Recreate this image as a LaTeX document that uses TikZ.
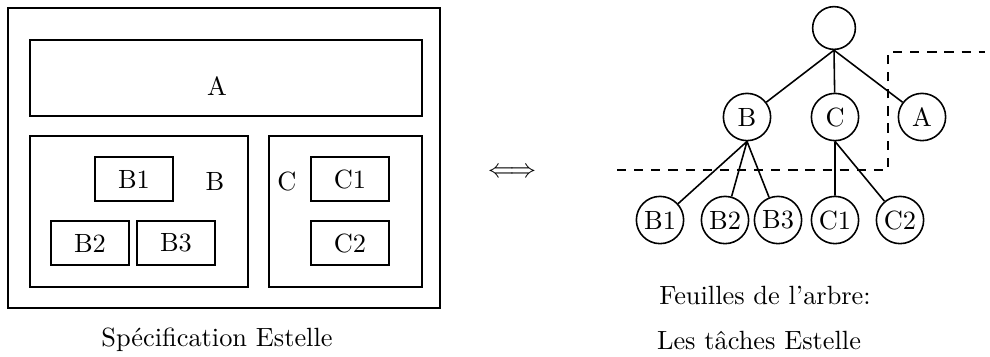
\documentclass[tikz,border=0pt]{standalone}
\usetikzlibrary{arrows,calc}

\begin{document}
\begin{tikzpicture}[x=0.01333cm,y=-0.01333cm,line width=0.6pt,
  tache/.style={draw,minimum width=1.04cm,minimum height=0.59cm,inner sep=0pt},
  noeud/.style={draw,circle,minimum size=0.63cm,inner sep=0pt},
  pointille/.style={dash pattern=on 3.5pt off 3pt}]
\useasboundingbox (0,0) rectangle (990,356);

% specification
\draw[line width=0.8pt] (8,8) rectangle (440,308);
\draw (30,40) rectangle (422,116);
\draw (30,136) rectangle (248,287);
\draw (269,136) rectangle (422,287);

\node (lA) at (217,86) {A};
\node (lB) at (215,181) {B};
\node (lC) at (287,181) {C};

\node[tache] (b1) at (134,179) {B1};
\node[tache] (b2) at (90,243) {B2};
\node[tache] (b3) at (176,243) {B3};
\node[tache] (c1) at (350,179) {C1};
\node[tache] (c2) at (350,243) {C2};

\node (spec) at (217,340) {Sp\'ecification Estelle};

\node (equiv) at (512,173) {$\Longleftrightarrow$};

% arbre
\node[noeud,minimum size=0.57cm] (R) at (834,28) {};
\node[noeud] (B) at (747,117) {B};
\node[noeud] (C) at (835,117) {C};
\node[noeud] (A) at (922,117) {A};

\node[noeud] (B1) at (660,220) {B1};
\node[noeud] (B2) at (725,220) {B2};
\node[noeud] (B3) at (778,220) {B3};
\node[noeud] (C1) at (835,220) {C1};
\node[noeud] (C2) at (900,220) {C2};

\draw (R.south) -- (B) (R.south) -- (C) (R.south) -- (A);
\draw (B.south) -- (B1) (B.south) -- (B2) (B.south) -- (B3);
\draw (C.south) -- (C1) (C.south) -- (C2);

\coordinate (d1) at (617,170);
\coordinate (d2) at (888,170);
\coordinate (d3) at (888,52);
\coordinate (d4) at (985,52);
\draw[pointille] (d1) -- (d2) -- (d3) -- (d4);

\node (feuilles) at (765,295) {Feuilles de l'arbre:};
\node (taches) at (759,340) {Les t\^aches Estelle};

\end{tikzpicture}
\end{document}
